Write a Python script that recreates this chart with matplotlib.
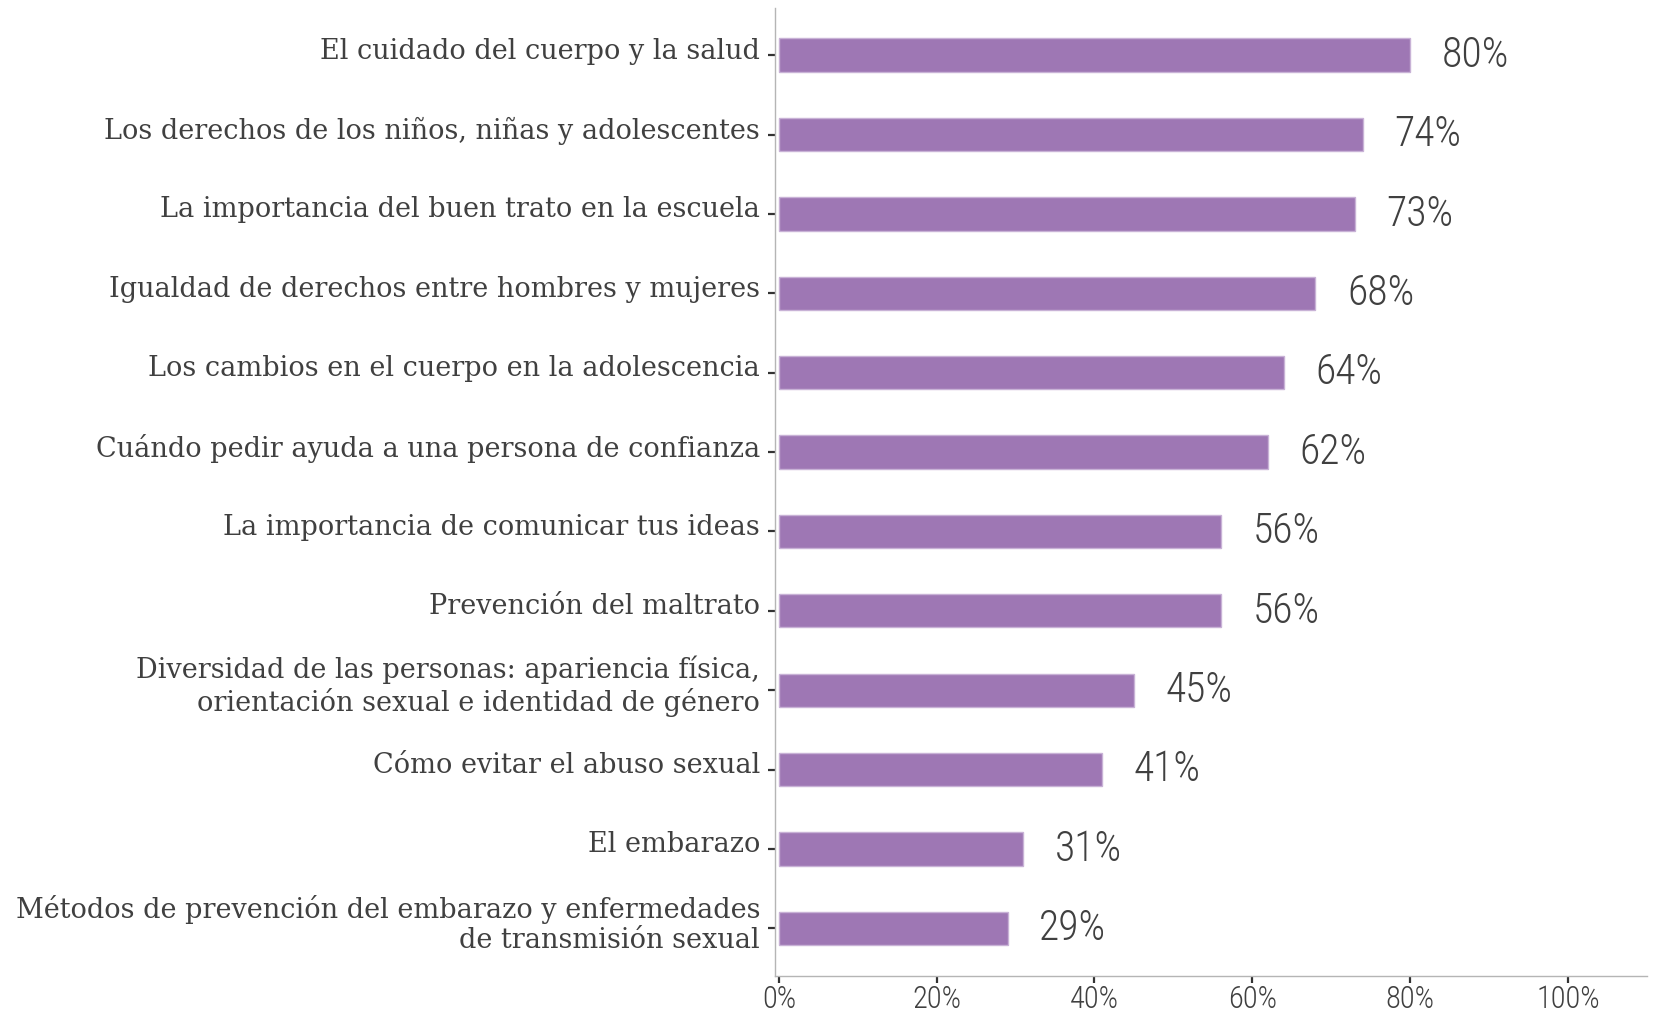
import matplotlib
matplotlib.use("Agg")
import matplotlib.pyplot as plt
import matplotlib.transforms as mtransforms
from matplotlib import font_manager as fm

categories = [
    "El cuidado del cuerpo y la salud",
    "Los derechos de los niños, niñas y adolescentes",
    "La importancia del buen trato en la escuela",
    "Igualdad de derechos entre hombres y mujeres",
    "Los cambios en el cuerpo en la adolescencia",
    "Cuándo pedir ayuda a una persona de confianza",
    "La importancia de comunicar tus ideas",
    "Prevención del maltrato",
    "Diversidad de las personas: apariencia física,\norientación sexual e identidad de género",
    "Cómo evitar el abuso sexual",
    "El embarazo",
    "Métodos de prevención del embarazo y enfermedades\nde transmisión sexual",
]
values = [80, 74, 73, 68, 64, 62, 56, 56, 45, 41, 31, 29]
x_ticks = [0, 20, 40, 60, 80, 100]
x_tick_labels = ["0%", "20%", "40%", "60%", "80%", "100%"]

available = {f.name for f in fm.fontManager.ttflist}


def pick(options, default):
    for name in options:
        if name in available:
            return name
    return default


label_font = pick(["Roboto Slab", "DejaVu Serif Condensed", "DejaVu Serif"], "DejaVu Serif")
num_font = pick(["Roboto Condensed", "Liberation Sans Narrow", "Roboto"], "DejaVu Sans")

BAR = "#9E77B4"
TEXT = "#404040"
AXIS = "#B5B5B5"

fig = plt.figure(figsize=(16.55, 10.12), dpi=100)
ax = fig.add_axes([0.468, 0.0346, 0.527, 0.957])

ypos = list(range(len(categories)))
ax.barh(ypos, values, height=0.42, color=BAR, edgecolor="#C8B2D6", linewidth=1.0)

for y, v in zip(ypos, values):
    ax.text(v + 4.0, y - 0.01, f"{v}%", ha="left", va="center",
            fontsize=30, family=num_font, fontweight="light", color=TEXT)

ax.set_ylim(len(categories) - 0.4, -0.6)
ax.set_xlim(-0.55, 110)

# category labels: drawn beside the ticks, raised a little above tick centre
ax.set_yticks(ypos)
ax.set_yticklabels([])
label_tf = (mtransforms.blended_transform_factory(ax.transAxes, ax.transData)
            + mtransforms.ScaledTranslation(-0.145, 0.05, fig.dpi_scale_trans))
for y, name in zip(ypos, categories):
    ax.text(0, y, name, transform=label_tf, ha="right", va="center",
            family=label_font, fontsize=19.5, color=TEXT, linespacing=1.15,
            multialignment="right")

ax.set_xticks(x_ticks)
ax.set_xticklabels(x_tick_labels, family=num_font, fontsize=22, fontweight="light",
                   color=TEXT)

ax.tick_params(axis="y", length=5, width=1.6, color="#333333", pad=3)
ax.tick_params(axis="x", length=5, width=1.6, color="#333333", pad=1)

for side in ("top", "right"):
    ax.spines[side].set_visible(False)
for side in ("left", "bottom"):
    ax.spines[side].set_color(AXIS)
    ax.spines[side].set_linewidth(1.0)

fig.savefig("out.png", dpi=100)
